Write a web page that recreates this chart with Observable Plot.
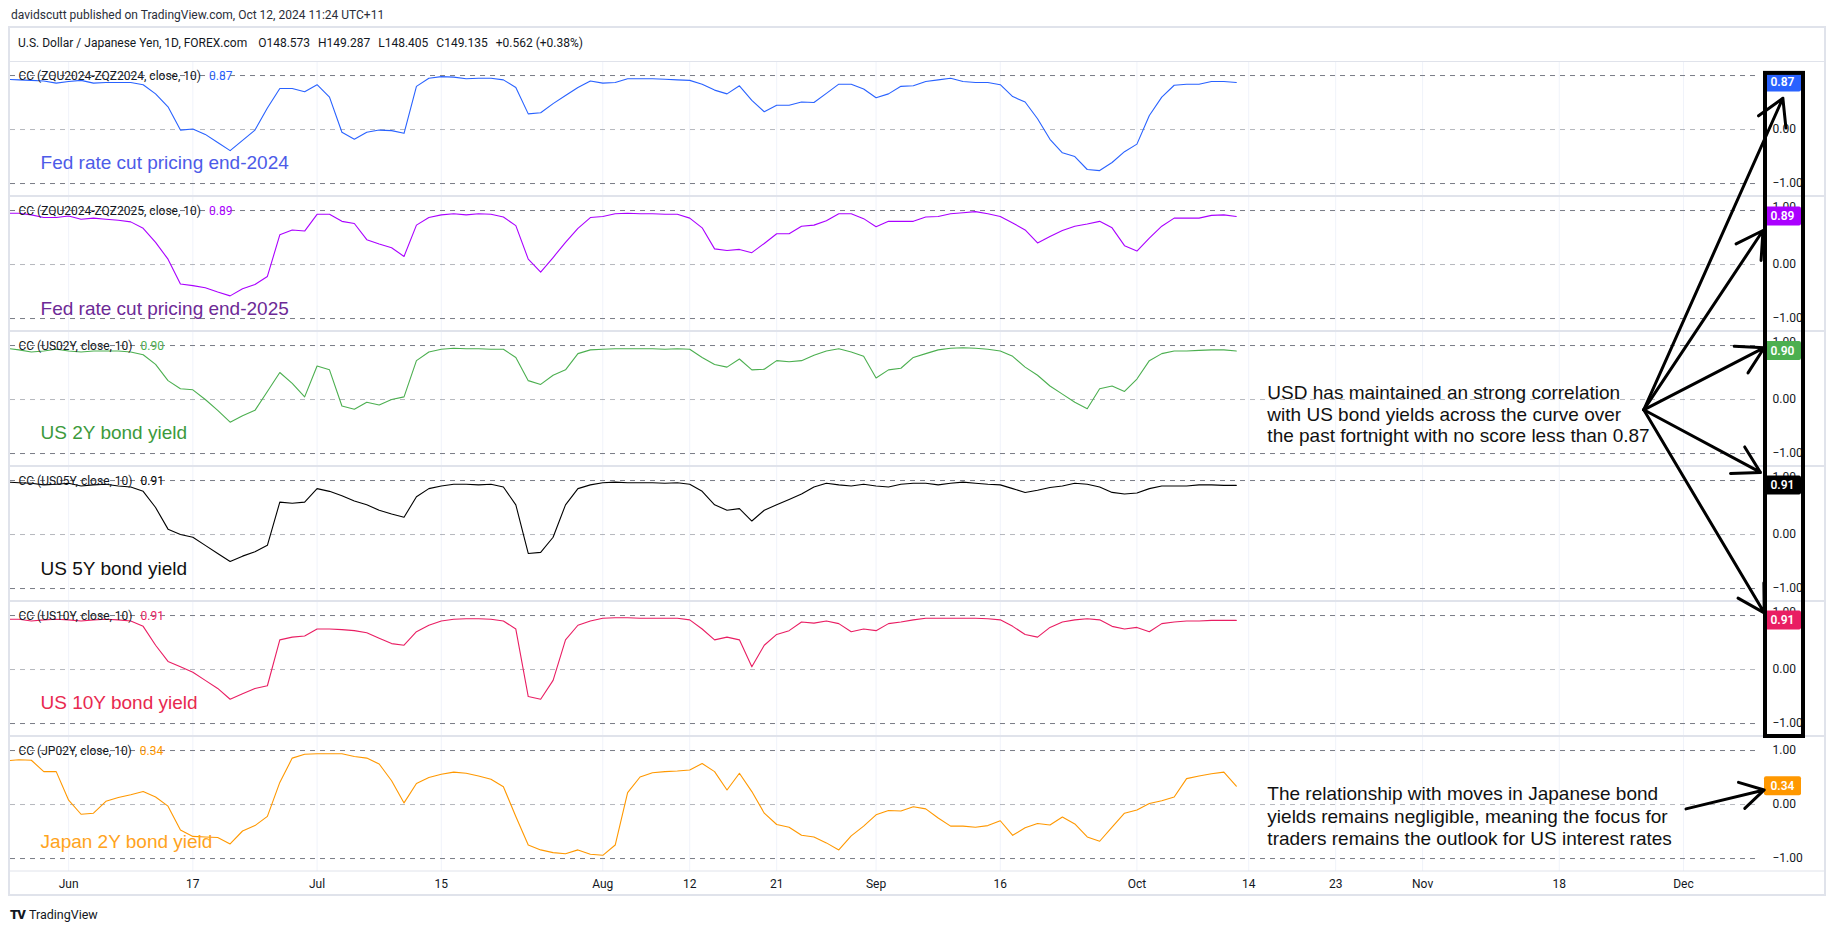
<!DOCTYPE html>
<html>
<head>
<meta charset="utf-8">
<script src="https://cdn.jsdelivr.net/npm/d3@7"></script>
<script src="https://cdn.jsdelivr.net/npm/@observablehq/plot@0.6"></script>
<style>
html,body{margin:0;padding:0;background:#fff;}
body{width:1835px;height:931px;position:relative;overflow:hidden;font-family:Roboto,"Open Sans",sans-serif;color:#131722;}
#byline{position:absolute;left:11px;top:7px;font-size:12px;line-height:16px;color:#2a2e39;white-space:nowrap;}
#frame{position:absolute;left:8px;top:26px;width:1818px;height:870px;border:2px solid #e0e3eb;box-sizing:border-box;}
#symbol{position:absolute;left:18px;top:35px;font-size:12px;line-height:16px;white-space:nowrap;color:#131722;}
#symbol span{margin-left:8px;}
#chart{position:absolute;left:0;top:61px;}
#brand{position:absolute;left:10px;top:907px;font-size:12.5px;line-height:16px;white-space:nowrap;color:#131722;}
#brand b{font-weight:900;font-size:13px;letter-spacing:-1px;margin-right:4px;}
</style>
</head>
<body>
<div id="byline">davidscutt published on TradingView.com, Oct 12, 2024 11:24 UTC+11</div>
<div id="frame"></div>
<div id="symbol">U.S. Dollar / Japanese Yen, 1D, FOREX.com <span>O148.573</span><span>H149.287</span><span>L148.405</span><span>C149.135</span><span>+0.562 (+0.38%)</span></div>
<div id="chart"></div>
<div id="brand"><b>TV</b>TradingView</div>
<script>
// ---------------- data ----------------
const firstDay = "2024-05-27";   // first bar of the series (daily, weekdays only)
const lastCalendarDay = "2024-12-31";

const tickDates = ["2024-06-03","2024-06-17","2024-07-01","2024-07-15","2024-08-01","2024-08-12","2024-08-21","2024-09-02","2024-09-16","2024-10-01","2024-10-14","2024-10-23","2024-11-01","2024-11-18","2024-12-02"];
const tickLabels = ["Jun","17","Jul","15","Aug","12","21","Sep","16","Oct","14","23","Nov","18","Dec"];

const seriesNames = ["ZQU2024-ZQZ2024","ZQU2024-ZQZ2025","US02Y","US05Y","US10Y","JP02Y"];
const seriesColors = ["#2962ff","#aa00ff","#4caf50","#000000","#e91e63","#ff9800"];
const noteTexts = ["Fed rate cut pricing end-2024","Fed rate cut pricing end-2025","US 2Y bond yield","US 5Y bond yield","US 10Y bond yield","Japan 2Y bond yield"];
const noteColors = ["#4d5be8","#6d2a96","#3c9a3c","#111111","#e8294f","#ffa320"];

const fed2024 = [0.93,0.92,0.91,0.90,0.86,0.89,0.91,0.86,0.87,0.87,
 0.87,0.83,0.66,0.42,-0.01,0.01,-0.09,-0.24,-0.39,-0.20,
 -0.01,0.40,0.76,0.76,0.70,0.83,0.60,-0.05,-0.18,-0.05,
 -0.01,-0.02,-0.07,0.80,0.95,0.98,0.97,0.94,0.95,0.95,
 0.92,0.78,0.29,0.31,0.48,0.63,0.78,0.90,0.86,0.87,
 0.94,0.94,0.94,0.93,0.92,0.91,0.84,0.73,0.66,0.81,
 0.54,0.33,0.45,0.45,0.51,0.50,0.67,0.84,0.84,0.75,
 0.59,0.66,0.80,0.81,0.89,0.92,0.95,0.89,0.87,0.87,
 0.83,0.61,0.51,0.20,-0.18,-0.43,-0.50,-0.74,-0.76,-0.61,
 -0.41,-0.27,0.26,0.60,0.82,0.84,0.84,0.89,0.89,0.87];
const fed2025 = [0.95,0.95,0.92,0.87,0.87,0.90,0.84,0.86,0.84,0.82,
 0.79,0.67,0.41,0.10,-0.36,-0.39,-0.43,-0.51,-0.58,-0.45,
 -0.37,-0.22,0.55,0.64,0.62,0.93,0.93,0.80,0.76,0.46,
 0.38,0.31,0.15,0.73,0.87,0.92,0.94,0.92,0.94,0.93,
 0.88,0.72,0.10,-0.14,0.13,0.41,0.67,0.87,0.89,0.94,
 0.95,0.94,0.94,0.93,0.93,0.86,0.68,0.29,0.26,0.28,
 0.22,0.39,0.57,0.57,0.71,0.73,0.81,0.94,0.94,0.85,
 0.70,0.80,0.80,0.80,0.88,0.89,0.94,0.96,0.98,0.94,
 0.89,0.77,0.64,0.40,0.52,0.63,0.71,0.75,0.80,0.68,
 0.35,0.25,0.49,0.71,0.86,0.86,0.86,0.91,0.92,0.89];
const us02y = [0.95,0.92,0.88,0.90,0.93,0.90,0.88,0.90,0.90,0.90,
 0.88,0.83,0.65,0.35,0.20,0.18,0.00,-0.20,-0.42,-0.30,
 -0.20,0.15,0.50,0.30,0.05,0.62,0.55,-0.12,-0.18,-0.05,
 -0.10,0.00,0.05,0.72,0.88,0.93,0.95,0.94,0.94,0.93,
 0.93,0.78,0.35,0.28,0.45,0.55,0.85,0.92,0.93,0.94,
 0.94,0.94,0.94,0.93,0.94,0.93,0.78,0.65,0.60,0.75,
 0.55,0.56,0.72,0.70,0.72,0.82,0.90,0.94,0.88,0.80,
 0.40,0.55,0.58,0.78,0.85,0.92,0.95,0.96,0.95,0.93,
 0.90,0.80,0.60,0.45,0.25,0.10,-0.05,-0.17,0.20,0.25,
 0.15,0.38,0.72,0.85,0.90,0.90,0.91,0.92,0.92,0.90];
const us05y = [0.97,0.96,0.95,0.92,0.93,0.95,0.90,0.92,0.93,0.90,
 0.88,0.80,0.50,0.10,0.00,-0.05,-0.20,-0.35,-0.50,-0.40,
 -0.32,-0.20,0.60,0.58,0.60,0.85,0.80,0.72,0.62,0.55,
 0.45,0.38,0.32,0.70,0.85,0.90,0.93,0.93,0.92,0.93,
 0.88,0.55,-0.35,-0.33,-0.05,0.55,0.85,0.92,0.96,0.97,
 0.96,0.96,0.96,0.95,0.96,0.93,0.80,0.55,0.45,0.48,
 0.25,0.45,0.55,0.65,0.75,0.88,0.95,0.92,0.90,0.93,
 0.90,0.88,0.93,0.95,0.95,0.92,0.95,0.97,0.95,0.93,
 0.92,0.85,0.78,0.82,0.87,0.90,0.95,0.93,0.88,0.78,
 0.75,0.77,0.85,0.90,0.90,0.90,0.92,0.92,0.91,0.91];
const us10y = [0.93,0.93,0.90,0.92,0.93,0.92,0.90,0.92,0.93,0.92,
 0.90,0.80,0.45,0.15,0.05,-0.05,-0.20,-0.35,-0.55,-0.45,
 -0.35,-0.30,0.55,0.60,0.62,0.75,0.75,0.74,0.72,0.68,
 0.58,0.48,0.45,0.70,0.82,0.90,0.93,0.94,0.94,0.93,
 0.90,0.75,-0.50,-0.55,-0.20,0.55,0.82,0.90,0.95,0.96,
 0.96,0.95,0.95,0.95,0.95,0.92,0.75,0.55,0.60,0.55,
 0.05,0.45,0.65,0.72,0.88,0.86,0.90,0.85,0.70,0.75,
 0.72,0.85,0.88,0.92,0.95,0.95,0.95,0.95,0.95,0.94,
 0.92,0.80,0.65,0.60,0.78,0.88,0.92,0.94,0.92,0.80,
 0.75,0.78,0.70,0.85,0.88,0.90,0.90,0.91,0.91,0.91];
const jp02y = [0.81,0.83,0.82,0.61,0.61,0.08,-0.18,-0.16,0.06,0.13,
 0.18,0.24,0.14,-0.03,-0.47,-0.59,-0.60,-0.61,-0.73,-0.49,
 -0.39,-0.22,0.41,0.86,0.93,0.94,0.94,0.94,0.89,0.86,
 0.75,0.44,0.03,0.39,0.50,0.56,0.60,0.58,0.53,0.47,
 0.33,-0.22,-0.75,-0.84,-0.89,-0.91,-0.84,-0.92,-0.94,-0.75,
 0.22,0.51,0.59,0.61,0.62,0.64,0.76,0.61,0.27,0.58,
 0.24,-0.16,-0.37,-0.42,-0.57,-0.60,-0.71,-0.84,-0.58,-0.40,
 -0.19,-0.11,-0.12,-0.04,-0.08,-0.25,-0.40,-0.40,-0.42,-0.39,
 -0.30,-0.57,-0.43,-0.35,-0.38,-0.23,-0.36,-0.60,-0.68,-0.42,
 -0.16,-0.10,0.02,0.07,0.14,0.48,0.53,0.57,0.60,0.34];
const seriesValues = [fed2024, fed2025, us02y, us05y, us10y, jp02y];

// annotations, in (trading-day index, pane, correlation value) units
const paneNotes = [
  {i: 2.74, k: 0, v: -0.61}, {i: 2.74, k: 1, v: -0.83}, {i: 2.74, k: 2, v: -0.61},
  {i: 2.74, k: 3, v: -0.64}, {i: 2.74, k: 4, v: -0.62}, {i: 2.74, k: 5, v: -0.69}
];
const calloutTexts = [
  "USD has maintained an strong correlation\nwith US bond yields across the curve over\nthe past fortnight with no score less than 0.87",
  "The relationship with moves in Japanese bond\nyields remains negligible, meaning the focus for\ntraders remains the outlook for US interest rates"
];
const callouts = [{i: 101.5, k: 2, v: -0.26, lh: 1.14}, {i: 101.5, k: 5, v: -0.20, lh: 1.2}];
const arrowNotes = [
  {i1: 131.8, k1: 2, v1: -0.19, i2: 143.0, k2: 0, v2: 0.58},
  {i1: 131.8, k1: 2, v1: -0.19, i2: 141.4, k2: 1, v2: 0.63},
  {i1: 131.8, k1: 2, v1: -0.19, i2: 141.5, k2: 2, v2: 0.96},
  {i1: 131.8, k1: 2, v1: -0.19, i2: 141.2, k2: 3, v2: 1.15},
  {i1: 131.8, k1: 2, v1: -0.19, i2: 141.5, k2: 4, v2: 1.05},
  {i1: 135.2, k1: 5, v1: -0.08, i2: 141.5, k2: 5, v2: 0.27}
];

// ---------------- layout constants ----------------
const STEP = 2.5;          // vertical extent of one pane in value units
const Y_TOP = 1.26;        // top of first pane
const X_VIEW = [0.32, 141.2];
const HIGHLIGHT_TOP = 1.04;

// trading-day calendar (weekdays)
const tradingDays = [];
for (let d = new Date(firstDay + "T00:00:00Z"); d <= new Date(lastCalendarDay + "T00:00:00Z"); d.setUTCDate(d.getUTCDate() + 1)) {
  const wd = d.getUTCDay();
  if (wd > 0 && wd < 6) tradingDays.push(d.toISOString().slice(0, 10));
}
const tickIdx = tickDates.map(d => tradingDays.indexOf(d));
const tickText = new Map(tickIdx.map((d, i) => [d, tickLabels[i]]));

const series = seriesNames.map((name, k) => ({
  k, name, color: seriesColors[k], values: seriesValues[k],
  legend: `CC (${name}, close, 10)`,
  last: d3.format(".2f")(seriesValues[k][seriesValues[k].length - 1])
}));

const bandRows = [];
const tickRows = [];
series.forEach(s => {
  [1, -1].forEach(v => bandRows.push({k: s.k, v}));
  // the first pane's 1.00 label is fully hidden behind its value label in the reference
  (s.k === 0 ? [0, -1] : [1, 0, -1]).forEach(v => tickRows.push({k: s.k, v}));
});
const fmtTick = v => (v < 0 ? "\u2212" : "") + Math.abs(v).toFixed(2);

const ctx = document.createElement("canvas").getContext("2d");
ctx.font = "12px Roboto";
const textW = t => ctx.measureText(t).width;

function paneSeparators(index, scales, values, dim) {
  const g = d3.create("svg:g");
  for (let k = 0; k <= 6; k++) {
    const yy = scales.y(Y_TOP - STEP * k) + (k === 0 ? 0.5 : 0);
    g.append("line").attr("x1", dim.marginLeft - 1).attr("x2", dim.width - 10)
      .attr("y1", yy).attr("y2", yy).attr("stroke", "#e0e3eb").attr("stroke-width", k === 0 || k === 6 ? 1 : 2);
  }
  return g.node();
}

function priceColumn(index, scales, values, dim) {
  const g = d3.create("svg:g");
  const left = dim.width - dim.marginRight;
  series.forEach(s => {
    const cy = scales.y(+s.last - STEP * s.k);
    g.append("rect").attr("x", left + 4).attr("y", cy - 9.5).attr("width", 37).attr("height", 19)
      .attr("rx", 2).attr("fill", s.color);
    g.append("text").attr("x", left + 22.5).attr("y", cy).attr("dy", "0.35em").attr("text-anchor", "middle")
      .attr("fill", "#fff").attr("font-size", 12).attr("font-weight", 600).text(s.last);
  });
  const top = scales.y(HIGHLIGHT_TOP), bottom = scales.y(Y_TOP - STEP * 5);
  g.append("rect").attr("x", left + 5).attr("y", top).attr("width", 38).attr("height", bottom - top)
    .attr("fill", "none").attr("stroke", "#000").attr("stroke-width", 4);
  return g.node();
}

const chart = Plot.plot({
  width: 1835, height: 834,
  marginLeft: 10, marginRight: 75, marginTop: 0, marginBottom: 24,
  style: {fontFamily: "Roboto", fontSize: "12px", color: "#131722", background: "transparent", overflow: "visible"},
  x: {type: "linear", domain: X_VIEW, ticks: tickIdx, tickFormat: d => tickText.get(d), tickSize: 0, tickPadding: 8, label: null},
  y: {domain: [Y_TOP - STEP * 6, Y_TOP], axis: null},
  marks: [
    Plot.ruleX(tickIdx, {stroke: "#f0f3fa", strokeWidth: 1}),
    Plot.ruleY(bandRows, {y: d => d.v - STEP * d.k, stroke: "#787b86", strokeDasharray: "5,5"}),
    Plot.ruleY(series, {y: d => -STEP * d.k, stroke: "#787b86", strokeOpacity: 0.55, strokeDasharray: "5,5"}),
    paneSeparators,
    ...series.map(s => Plot.line(s.values, {x: (d, i) => i, y: d => d - STEP * s.k, stroke: s.color, strokeWidth: 1.1, clip: true})),
    Plot.text(series, {frameAnchor: "left", y: d => 1 - STEP * d.k, text: "legend", dx: 8, dy: 1, textAnchor: "start", fill: "#131722", fontSize: 12}),
    ...series.map(s => Plot.text([s], {frameAnchor: "left", y: d => 1 - STEP * d.k, text: "last", dx: 8 + textW(s.legend) + 8, dy: 1, textAnchor: "start", fill: s.color, fontSize: 12})),
    ...paneNotes.map((n, j) => Plot.text([n], {x: "i", y: d => d.v - STEP * d.k, text: () => noteTexts[j], textAnchor: "start", fill: noteColors[j], fontSize: 19, fontFamily: "Liberation Sans"})),
    Plot.text(tickRows.filter(d => !(d.v === 1 && d.k < 5)), {frameAnchor: "right", y: d => d.v - STEP * d.k, text: d => fmtTick(d.v), dx: 12, textAnchor: "start", fill: "#131722", fontSize: 12}),
    Plot.text(tickRows.filter(d => d.v === 1 && d.k < 5), {frameAnchor: "right", y: d => d.v - STEP * d.k, text: d => fmtTick(d.v), dx: 12, dy: -3, textAnchor: "start", fill: "#131722", fontSize: 12}),
    priceColumn,
    ...callouts.map((c, j) => Plot.text([c], {x: "i", y: d => d.v - STEP * d.k, text: () => calloutTexts[j], textAnchor: "start", lineAnchor: "middle", lineHeight: c.lh, fill: "#111", fontSize: 19, fontFamily: "Liberation Sans"})),
    Plot.arrow(arrowNotes, {x1: "i1", y1: d => d.v1 - STEP * d.k1, x2: "i2", y2: d => d.v2 - STEP * d.k2, stroke: "#000", strokeWidth: 3, headLength: 15})
  ]
});
document.getElementById("chart").appendChild(chart);
</script>
</body>
</html>
